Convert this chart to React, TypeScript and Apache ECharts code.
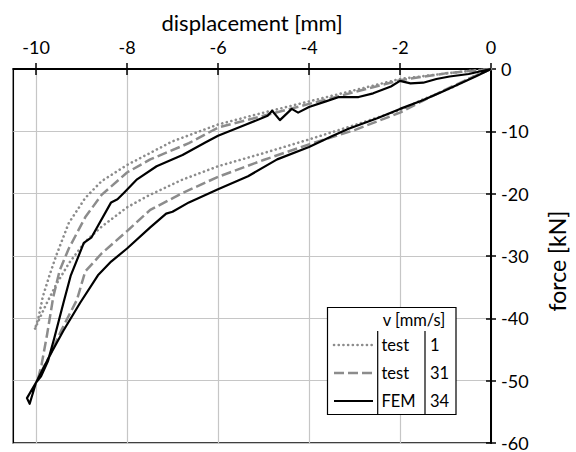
import React, { useEffect, useRef } from "react";
import * as echarts from "echarts";

// displacement [mm], force [kN]
const test1: [number, number][] = [
  [0, 0], [-0.4, -1.2], [-0.8, -2.8], [-1.5, -4.9], [-2, -6.6], [-3, -9.0],
  [-4, -11.3], [-5, -13.5], [-6, -15.6], [-6.8, -17.8], [-7.5, -20.2], [-8, -22.2],
  [-8.56, -25.3], [-8.92, -27.7], [-9.28, -31.2], [-9.56, -34.6], [-9.78, -37.8],
  [-9.92, -40.0], [-10.03, -41.8],
  [-9.95, -40.0], [-9.85, -36.5], [-9.7, -33.0], [-9.56, -30.0], [-9.28, -24.7],
  [-8.92, -20.7], [-8.56, -18.0], [-8, -15.4], [-7, -11.6], [-6, -8.9], [-5, -7.0],
  [-4, -5.2], [-3, -3.4], [-2, -1.6], [-1.2, -0.9], [-0.6, -0.4], [0, 0],
];

const test31: [number, number][] = [
  [0, 0], [-0.5, -1.6], [-1, -3.3], [-1.5, -5.1], [-2, -7.0], [-3, -9.8],
  [-4, -12.1], [-5, -14.6], [-6, -17.3], [-6.78, -19.9], [-7.49, -22.6], [-8, -26.0],
  [-8.56, -29.6], [-8.92, -32.5], [-9.1, -37.0], [-9.45, -42.0], [-9.7, -46.0],
  [-9.95, -49.5],
  [-9.88, -47.5], [-9.76, -42.7], [-9.62, -36.5], [-9.48, -32.3], [-9.28, -28.8],
  [-8.92, -23.8], [-8.56, -20.2], [-8, -16.6], [-7.49, -14.5], [-6.64, -11.9],
  [-6, -9.4], [-5, -7.5], [-4, -5.6], [-3, -3.7], [-2, -1.8], [-1, -0.7], [0, 0],
];

const fem34: [number, number][] = [
  [0, 0], [-0.34, -1.2], [-1.06, -3.6], [-1.5, -5.0], [-2, -6.4], [-2.5, -7.9],
  [-3.13, -9.6], [-3.5, -10.8], [-4, -12.5], [-4.7, -14.5], [-5.34, -17.2],
  [-6, -19.3], [-6.64, -21.4], [-7.0, -22.9], [-7.14, -23.2], [-7.49, -25.4],
  [-8, -28.8], [-8.35, -30.9], [-8.64, -33.1], [-9.03, -37.5], [-9.4, -42.0],
  [-9.7, -46.0], [-10.0, -50.3], [-10.2, -52.8], [-10.14, -53.7],
  [-10.0, -50.3], [-9.89, -49.3], [-9.74, -46.9], [-9.6, -43.2], [-9.39, -37.3],
  [-9.24, -33.2], [-8.95, -27.9], [-8.78, -27.0], [-8.35, -21.4], [-8.21, -20.9],
  [-8.06, -19.8], [-7.78, -17.7], [-7.35, -15.6], [-6.78, -13.8], [-6.28, -11.8],
  [-6, -10.7], [-5.41, -9.0], [-4.91, -7.5], [-4.81, -6.7], [-4.64, -8.2],
  [-4.38, -6.4], [-4.24, -7.0], [-4, -6.1], [-3.63, -5.2], [-3.34, -4.5],
  [-2.91, -4.5], [-2.59, -3.9], [-2.2, -2.8], [-2, -1.9], [-1.77, -2.3],
  [-1.49, -2.2], [-1.2, -1.6], [-0.91, -1.2], [-0.49, -0.8], [0, 0],
];

const xTickValues = [-10, -8, -6, -4, -2, 0];
const legendHeader = "v [mm/s]";
const legendNames = ["test", "test", "FEM"];
const legendSpeeds = ["1", "31", "34"];

const FONT = "Lato, 'Open Sans', sans-serif";
const GRAY = "#8c8c8c";
const TXT = "#000";

export default function App() {
  const ref = useRef<HTMLDivElement>(null);
  useEffect(() => {
    const chart = echarts.init(ref.current!, null, { renderer: "svg" });
    const baseX = {
      type: "value",
      position: "top",
      min: -10.5,
      max: 0,
      minInterval: 2,
      maxInterval: 2,
    };
    const lineStyles = [
      { color: GRAY, width: 2.6, type: [0.1, 4.6], cap: "round" },
      { color: GRAY, width: 2.5, type: [10, 4], cap: "butt" },
      { color: "#000", width: 2.2, type: "solid", cap: "butt" },
    ];
    const rowsY = [345, 373, 401];
    const legendEls: any[] = [
      {
        type: "rect",
        z: 100,
        shape: { x: 327.5, y: 307.5, width: 128.5, height: 107 },
        style: { fill: "#fff", stroke: "#000", lineWidth: 1.2 },
      },
      {
        type: "line",
        z: 101,
        shape: { x1: 377.7, y1: 331, x2: 377.7, y2: 414.5 },
        style: { stroke: "#000", lineWidth: 1.2 },
      },
      {
        type: "line",
        z: 101,
        shape: { x1: 425, y1: 331, x2: 425, y2: 414.5 },
        style: { stroke: "#000", lineWidth: 1.2 },
      },
      {
        type: "text",
        z: 101,
        x: 414,
        y: 320,
        style: {
          text: legendHeader,
          fontSize: 16.5,
          fontFamily: FONT,
          fill: TXT,
          align: "center",
          verticalAlign: "middle",
        },
      },
    ];
    rowsY.forEach((y, i) => {
      const ls = lineStyles[i];
      legendEls.push({
        type: "line",
        z: 101,
        shape: { x1: 334, y1: y, x2: 373, y2: y },
        style: {
          stroke: ls.color,
          lineWidth: ls.width,
          lineDash: ls.type === "solid" ? null : ls.type,
          lineCap: ls.cap,
        },
      });
      legendEls.push({
        type: "text",
        z: 101,
        x: 381.5,
        y,
        style: {
          text: legendNames[i],
          fontSize: 16.5,
          fontFamily: FONT,
          fill: TXT,
          align: "left",
          verticalAlign: "middle",
        },
      });
      legendEls.push({
        type: "text",
        z: 101,
        x: 430,
        y,
        style: {
          text: legendSpeeds[i],
          fontSize: 16.5,
          fontFamily: FONT,
          fill: TXT,
          align: "left",
          verticalAlign: "middle",
        },
      });
    });

    const mkSeries = (name: string, data: [number, number][], i: number) => ({
      name,
      type: "line",
      data,
      showSymbol: false,
      symbol: "none",
      smooth: false,
      xAxisIndex: 0,
      yAxisIndex: 0,
      lineStyle: {
        color: lineStyles[i].color,
        width: lineStyles[i].width,
        type: lineStyles[i].type,
        cap: lineStyles[i].cap,
        join: "round",
      },
      z: 3 + i,
    });

    chart.setOption({
      animation: false,
      backgroundColor: "#fff",
      textStyle: { fontFamily: FONT },
      grid: {
        left: 13.3,
        right: 73,
        top: 69,
        bottom: 6.3,
        show: true,
        borderColor: "#000",
        borderWidth: 1.5,
        containLabel: false,
      },
      xAxis: [
        {
          ...baseX,
          name: "displacement [mm]",
          nameLocation: "middle",
          nameGap: 36,
          nameTextStyle: { fontSize: 22, color: TXT, fontFamily: FONT },
          axisLine: { show: true, onZero: false, lineStyle: { color: "#000", width: 2 } },
          axisTick: {
            show: true,
            inside: false,
            length: 6,
            customValues: xTickValues,
            lineStyle: { color: "#000", width: 1.5 },
          },
          axisLabel: {
            show: true,
            customValues: xTickValues,
            margin: 13,
            fontSize: 18,
            color: TXT,
            fontFamily: FONT,
          },
          splitLine: { show: true, lineStyle: { color: "#c6c6c6", width: 1.2 } },
        },
        {
          ...baseX,
          axisLine: { show: false, onZero: false },
          axisTick: {
            show: true,
            inside: true,
            length: 6,
            customValues: xTickValues,
            lineStyle: { color: "#000", width: 1.5 },
          },
          axisLabel: { show: false },
          splitLine: { show: false },
        },
      ],
      yAxis: [
        {
          type: "value",
          position: "right",
          min: -60,
          max: 0,
          interval: 10,
          name: "force [kN]",
          nameLocation: "middle",
          nameGap: 54,
          nameRotate: 90,
          nameTextStyle: {
            fontSize: 23,
            color: TXT,
            fontFamily: FONT,
            padding: [0, 10, 0, 0],
          },
          axisLine: { show: true, onZero: false, lineStyle: { color: "#000", width: 2 } },
          axisTick: { show: true, inside: false, length: 5, lineStyle: { color: "#000", width: 1.5 } },
          axisLabel: { show: true, margin: 10, fontSize: 18, color: TXT, fontFamily: FONT },
          splitLine: { show: true, lineStyle: { color: "#c6c6c6", width: 1.2 } },
        },
        {
          type: "value",
          position: "right",
          min: -60,
          max: 0,
          interval: 10,
          axisLine: { show: false, onZero: false },
          axisTick: { show: true, inside: true, length: 5, lineStyle: { color: "#000", width: 1.5 } },
          axisLabel: { show: false },
          splitLine: { show: false },
        },
      ],
      series: [
        mkSeries("test 1", test1, 0),
        mkSeries("test 31", test31, 1),
        mkSeries("FEM 34", fem34, 2),
      ],
      graphic: legendEls,
    });
    return () => chart.dispose();
  }, []);
  return (
    <div
      ref={ref}
      style={{ position: "fixed", left: 0, top: 0, width: 576, height: 452 }}
    />
  );
}
